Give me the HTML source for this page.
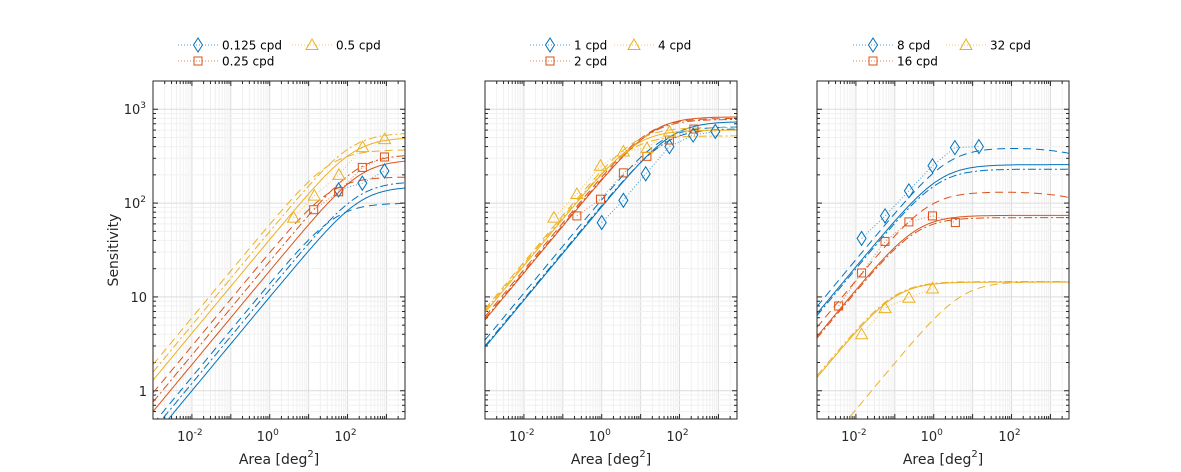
<!DOCTYPE html>
<html><head><meta charset="utf-8"><style>
html,body{margin:0;padding:0;background:#fff;}
svg{display:block;font-family:"DejaVu Sans","Liberation Sans",sans-serif;}
</style></head><body>
<svg id="s" width="1181" height="472" xmlns="http://www.w3.org/2000/svg"></svg>
<script>
(function(){
const svg=document.getElementById('s');
let out='';
const C={b:'#0072BD',r:'#D95319',y:'#EDB120'};
const panels=[153,485,817];
const TOP=81,BOT=419,W=252;
const xmin=-3,xmax=Math.log10(3000),ymin=Math.log10(0.5),ymax=Math.log10(2000);
function px(L,x0){return x0+(L-xmin)/(xmax-xmin)*W;}
function py(L){return BOT-(L-ymin)/(ymax-ymin)*(BOT-TOP);}
const DASH={s:'',d:'8,5',dd:'8,3,2,3'};
function f(A,p){const Ac=Math.pow(p.S/p.k,2);let v=p.S*Math.sqrt(A/(A+Ac));if(p.Ad)v*=Math.pow(1+A/p.Ad,-p.p);return v;}
const P=[
 {curves:[
  ['b','s',{S:150,k:10}],['b','d',{S:100,k:14}],['b','dd',{S:170,k:12}],
  ['r','s',{S:290,k:19}],['r','d',{S:190,k:30}],['r','dd',{S:330,k:24}],
  ['y','s',{S:500,k:41}],['y','d',{S:370,k:60}],['y','dd',{S:560,k:50}]],
  data:[['b','dia',[[59,138],[240,163],[890,220]]],
   ['r','sq',[[13.5,85],[59,132],[240,240],[890,310]]],
   ['y','tri',[[4.1,70],[14,120],[60,200],[245,395],[900,480]]]]},
 {curves:[
  ['b','s',{S:740,k:92}],['b','d',{S:650,k:110}],['b','dd',{S:620,k:95}],
  ['r','s',{S:830,k:180}],['r','d',{S:800,k:195}],['r','dd',{S:780,k:185}],
  ['y','s',{S:600,k:215}],['y','d',{S:640,k:235}],['y','dd',{S:520,k:225}]],
  data:[['b','dia',[[1,62],[3.6,107],[13.5,205],[55,400],[224,530],[830,580]]],
   ['r','sq',[[0.23,73],[0.93,110],[3.6,210],[14.5,315],[55,470],[234,615]]],
   ['y','tri',[[0.059,70],[0.23,125],[0.93,250],[3.6,355],[14.5,385],[55,575]]]]},
 {curves:[
  ['b','s',{S:257,k:210}],['b','d',{S:390,k:250,Ad:1000,p:0.1}],['b','dd',{S:230,k:200}],
  ['r','s',{S:74,k:120}],['r','d',{S:132,k:150,Ad:1000,p:0.1}],['r','dd',{S:70,k:115}],
  ['y','s',{S:14.4,k:44}],['y','d',{S:14.5,k:6.3}],['y','dd',{S:14.6,k:46}]],
  data:[['b','dia',[[0.014,42],[0.056,73],[0.23,135],[0.93,250],[3.5,390],[14.5,400]]],
   ['r','sq',[[0.0036,8],[0.014,18],[0.056,39],[0.23,63],[0.93,73],[3.6,62]]],
   ['y','tri',[[0.014,4],[0.056,7.6],[0.23,9.8],[0.93,12.3]]]]}
];
function marker(t,x,y,c){
 if(t==='dia')return `<polygon points="${x},${y-7} ${x+4.5},${y} ${x},${y+7} ${x-4.5},${y}" fill="none" stroke="${c}" stroke-width="1"/>`;
 if(t==='sq')return `<rect x="${x-4}" y="${y-4}" width="8" height="8" fill="none" stroke="${c}" stroke-width="1"/>`;
 return `<polygon points="${x},${y-6} ${x+6},${y+4.5} ${x-6},${y+4.5}" fill="none" stroke="${c}" stroke-width="1"/>`;
}
out+='<defs>';
panels.forEach((x0,i)=>{out+=`<clipPath id="c${i}"><rect x="${x0}" y="${TOP}" width="${W}" height="${BOT-TOP}"/></clipPath>`;});
out+='</defs>';
panels.forEach((x0,i)=>{
 let g='';
 for(let d=-3;d<=3;d++){for(let m=1;m<10;m++){const L=d+Math.log10(m);if(L<xmin||L>xmax)continue;const X=px(L,x0);
  g+=`<line x1="${X}" y1="${TOP}" x2="${X}" y2="${BOT}" stroke="${m==1?'#dcdcdc':'#f0f0f0'}" stroke-width="1"/>`;
  g+=`<line x1="${X}" y1="${TOP}" x2="${X}" y2="${TOP+(m==1?5:3)}" stroke="#262626"/><line x1="${X}" y1="${BOT}" x2="${X}" y2="${BOT-(m==1?5:3)}" stroke="#262626"/>`;}}
 for(let d=-1;d<=3;d++){for(let m=1;m<10;m++){const L=d+Math.log10(m);if(L<ymin||L>ymax)continue;const Y=py(L);
  g+=`<line x1="${x0}" y1="${Y}" x2="${x0+W}" y2="${Y}" stroke="${m==1?'#dcdcdc':'#f0f0f0'}" stroke-width="1"/>`;
  g+=`<line x1="${x0}" y1="${Y}" x2="${x0+(m==1?5:3)}" y2="${Y}" stroke="#262626"/><line x1="${x0+W}" y1="${Y}" x2="${x0+W-(m==1?5:3)}" y2="${Y}" stroke="#262626"/>`;}}
 out+=g;
 const p=P[i];
 out+=`<g clip-path="url(#c${i})">`;
 p.curves.forEach(([c,st,pr])=>{let d='';for(let j=0;j<=200;j++){const L=xmin+(xmax-xmin)*j/200;const v=f(Math.pow(10,L),pr);d+=(j?'L':'M')+px(L,x0).toFixed(1)+','+py(Math.log10(v)).toFixed(1);}
  out+=`<path d="${d}" fill="none" stroke="${C[c]}" stroke-width="1" ${DASH[st]?`stroke-dasharray="${DASH[st]}"`:''}/>`;});
 p.data.forEach(([c,m,pts])=>{const q=pts.map(([a,s])=>[px(Math.log10(a),x0),py(Math.log10(s))]);
  out+=`<polyline points="${q.map(v=>v.join(',')).join(' ')}" fill="none" stroke="${C[c]}" stroke-opacity="0.7" stroke-dasharray="1,2"/>`;
  q.forEach(v=>out+=marker(m,v[0],v[1],C[c]));});
 out+='</g>';
 out+=`<rect x="${x0}" y="${TOP}" width="${W}" height="${BOT-TOP}" fill="none" stroke="#262626" stroke-width="1"/>`;
 [[-2,'-2'],[0,'0'],[2,'2']].forEach(([L,t])=>{const X=px(L,x0);out+=`<text x="${X-2}" y="441" font-size="13" fill="#262626" text-anchor="middle">10<tspan font-size="9" dy="-6">${t}</tspan></text>`;});
 out+=`<text x="${x0+W/2}" y="464" font-size="14" fill="#262626" text-anchor="middle">Area [deg<tspan font-size="10" dy="-7">2</tspan><tspan dy="7">]</tspan></text>`;
});
[[3,'10','3'],[2,'10','2'],[1,'10',''],[0,'1','']].forEach(([L,b,e])=>{const Y=py(L)+5;
 out+= e?`<text x="146" y="${Y}" font-size="13" fill="#262626" text-anchor="end">${b}<tspan font-size="9" dy="-6">${e}</tspan></text>`:`<text x="147" y="${Y}" font-size="13" fill="#262626" text-anchor="end">${b}</text>`;});
out+=`<text transform="translate(118,250) rotate(-90)" font-size="14" fill="#262626" text-anchor="middle">Sensitivity</text>`;
const LG=[[178,114,['0.125 cpd','0.25 cpd','0.5 cpd']],[530,84,['1 cpd','2 cpd','4 cpd']],[853,93,['8 cpd','16 cpd','32 cpd']]];
const ms=['dia','sq','tri'],cs=['b','r','y'];
LG.forEach(([x,off,names])=>{
 const pos=[[x,45],[x,61],[x+off,45]];
 pos.forEach(([lx,ly],k)=>{out+=`<line x1="${lx}" y1="${ly}" x2="${lx+40}" y2="${ly}" stroke="${C[cs[k]]}" stroke-opacity="0.7" stroke-dasharray="1,2"/>`+marker(ms[k],lx+20,ly,C[cs[k]])+`<text x="${lx+44}" y="${ly+4.5}" font-size="12" fill="#000">${names[k]}</text>`;});
});
svg.innerHTML=out;
})();
</script>
</body></html>
